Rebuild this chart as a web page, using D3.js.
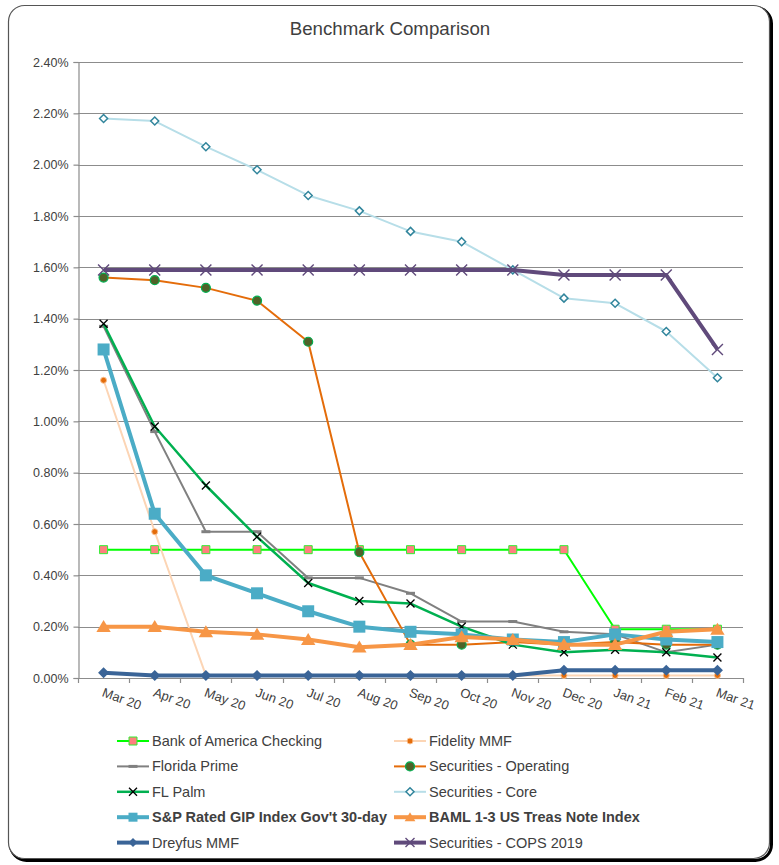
<!DOCTYPE html>
<html>
<head>
<meta charset="utf-8">
<script src="https://cdn.jsdelivr.net/npm/d3@7"></script>
<style>
  html, body { margin: 0; padding: 0; background: #fff; }
  svg { display: block; font-family: "Liberation Sans", Arial, sans-serif; }
</style>
</head>
<body>
<svg id="chart" width="779" height="865"></svg>
<script>
// Months on the category axis
const months = ["Mar 20", "Apr 20", "May 20", "Jun 20", "Jul 20", "Aug 20", "Sep 20",
                "Oct 20", "Nov 20", "Dec 20", "Jan 21", "Feb 21", "Mar 21"];

// Yield values, in percent
const bankOfAmerica   = [0.50, 0.50, 0.50, 0.50, 0.50, 0.50, 0.50, 0.50, 0.50, 0.50, 0.19, 0.19, 0.19];
const fidelityMMF     = [1.16, 0.57, 0.01, 0.01, 0.01, 0.01, 0.01, 0.01, 0.01, 0.01, 0.01, 0.01, 0.01];
const floridaPrime    = [1.37, 0.96, 0.57, 0.57, 0.39, 0.39, 0.33, 0.22, 0.22, 0.18, 0.17, 0.10, 0.13];
const secOperating    = [1.56, 1.55, 1.52, 1.47, 1.31, 0.49, 0.13, 0.13, 0.14, 0.13, 0.14, 0.13, 0.13];
const flPalm          = [1.38, 0.98, 0.75, 0.55, 0.37, 0.30, 0.29, 0.20, 0.13, 0.10, 0.11, 0.10, 0.08];
const secCore         = [2.18, 2.17, 2.07, 1.98, 1.88, 1.82, 1.74, 1.70, 1.59, 1.48, 1.46, 1.35, 1.17];
const spGip           = [1.28, 0.64, 0.40, 0.33, 0.26, 0.20, 0.18, 0.17, 0.15, 0.14, 0.17, 0.15, 0.14];
const bamlTreas       = [0.20, 0.20, 0.18, 0.17, 0.15, 0.12, 0.13, 0.16, 0.15, 0.13, 0.13, 0.18, 0.19];
const dreyfusMMF      = [0.02, 0.01, 0.01, 0.01, 0.01, 0.01, 0.01, 0.01, 0.01, 0.03, 0.03, 0.03, 0.03];
const secCops2019     = [1.59, 1.59, 1.59, 1.59, 1.59, 1.59, 1.59, 1.59, 1.59, 1.57, 1.57, 1.57, 1.28];

const seriesNames = ["Bank of America Checking", "Fidelity MMF", "Florida Prime",
  "Securities - Operating", "FL Palm", "Securities - Core",
  "S&P Rated GIP Index Gov't 30-day", "BAML 1-3 US Treas Note Index",
  "Dreyfus MMF", "Securities - COPS 2019"];

// Value-axis ticks
const yTicks = [0, 0.2, 0.4, 0.6, 0.8, 1.0, 1.2, 1.4, 1.6, 1.8, 2.0, 2.2, 2.4];

const chartTitle = "Benchmark Comparison";

// ---- marker shapes ----
const mk = {
  square: s => `M${-s/2},${-s/2}h${s}v${s}h${-s}Z`,
  diamond: s => `M0,${-s/2}L${s/2},0L0,${s/2}L${-s/2},0Z`,
  triangle: s => `M0,${-s*0.55}L${s*0.6},${s*0.45}L${-s*0.6},${s*0.45}Z`,
  circle: s => d3.symbol(d3.symbolCircle, Math.PI * s * s / 4)(),
  cross: s => `M${-s/2},${-s/2}L${s/2},${s/2}M${s/2},${-s/2}L${-s/2},${s/2}`,
  dash: s => `M${-s/2},${-1.5}h${s}v3h${-s}Z`
};

const styles = [
  { values: bankOfAmerica, line: "#00ff00", width: 2,   shape: "square",   size: 8,  fill: "#ff7f7f", stroke: "#33ee33", sw: 1 },
  { values: fidelityMMF,   line: "#fcd5b5", width: 2,   shape: "circle",   size: 6,  fill: "#e46c0a", stroke: "#fac090", sw: 1 },
  { values: floridaPrime,  line: "#808080", width: 2,   shape: "dash",     size: 9,  fill: "#808080", stroke: "none",    sw: 0 },
  { values: secOperating,  line: "#e46c0a", width: 2,   shape: "circle",   size: 9,  fill: "#4f6228", stroke: "#00b050", sw: 1.2 },
  { values: flPalm,        line: "#00b050", width: 2.5, shape: "cross",    size: 8,  fill: "none",    stroke: "#000",    sw: 1.3 },
  { values: secCore,       line: "#b7dee8", width: 2,   shape: "diamond",  size: 8,  fill: "#fff",    stroke: "#31859c", sw: 1.5 },
  { values: spGip,         line: "#4bacc6", width: 4,   shape: "square",   size: 12, fill: "#4bacc6", stroke: "none",    sw: 0 },
  { values: bamlTreas,     line: "#f79646", width: 4,   shape: "triangle", size: 12, fill: "#f79646", stroke: "none",    sw: 0 },
  { values: dreyfusMMF,    line: "#3a6497", width: 4,   shape: "diamond",  size: 11, fill: "#3a6497", stroke: "none",    sw: 0 },
  { values: secCops2019,   line: "#604a7b", width: 4,   shape: "cross",    size: 11, fill: "none",    stroke: "#604a7b", sw: 1.4 }
];

const svg = d3.select("#chart");

// ---- frame with heavier right/bottom edge ----
svg.append("rect").attr("x", 10.5).attr("y", 7.5).attr("width", 761).attr("height", 853)
  .attr("rx", 16).attr("fill", "none").attr("stroke", "#000").attr("stroke-width", 3);
svg.append("rect").attr("x", 8.5).attr("y", 5.5).attr("width", 761).attr("height", 853)
  .attr("rx", 16).attr("fill", "#fff").attr("stroke", "#555").attr("stroke-width", 1.2);

// ---- title ----
svg.append("text").attr("x", 390).attr("y", 35).attr("text-anchor", "middle")
  .attr("font-size", 18.7).attr("fill", "#404040").text(chartTitle);

// ---- scales ----
const plot = { left: 78, right: 743, top: 62, bottom: 678 };
const x = d3.scaleBand().domain(months).range([plot.left, plot.right]).padding(0);
const cx = m => x(m) + x.bandwidth() / 2;
const y = d3.scaleLinear().domain([0, 2.4]).range([plot.bottom, plot.top]);

// ---- gridlines ----
svg.append("g").selectAll("line").data(yTicks.slice(1)).join("line")
  .attr("x1", plot.left).attr("x2", plot.right)
  .attr("y1", d => Math.round(y(d)) + 0.5).attr("y2", d => Math.round(y(d)) + 0.5)
  .attr("stroke", "#8c8c8c").attr("stroke-width", 1.2);

// ---- y axis ----
const yAxis = svg.append("g").attr("transform", `translate(${plot.left + 0.5},0)`)
  .call(d3.axisLeft(y).tickValues(yTicks).tickSize(5).tickPadding(5)
    .tickFormat(d => d3.format(".2f")(d) + "%"));
yAxis.select(".domain").attr("stroke", "#8c8c8c").attr("stroke-width", 1.2);
yAxis.selectAll(".tick line").attr("stroke", "#8c8c8c").attr("stroke-width", 1.2);
yAxis.selectAll(".tick text").attr("font-size", 12.5).attr("fill", "#404040")
  .attr("font-family", "Liberation Sans, Arial, sans-serif");

// ---- x axis (ticks on category boundaries) ----
const xg = svg.append("g");
xg.append("line").attr("x1", plot.left).attr("x2", plot.right)
  .attr("y1", plot.bottom + 0.5).attr("y2", plot.bottom + 0.5)
  .attr("stroke", "#8c8c8c").attr("stroke-width", 1.2);
const boundaries = months.map(m => x(m)).concat([plot.right]);
xg.selectAll("line.tk").data(boundaries).join("line").attr("class", "tk")
  .attr("x1", d => Math.round(d) + 0.5).attr("x2", d => Math.round(d) + 0.5)
  .attr("y1", plot.bottom).attr("y2", plot.bottom + 5)
  .attr("stroke", "#8c8c8c").attr("stroke-width", 1.2);
xg.selectAll("text").data(months).join("text")
  .attr("transform", m => `translate(${cx(m) + 1},${plot.bottom + 9}) rotate(20)`)
  .attr("dominant-baseline", "hanging")
  .attr("font-size", 13).attr("fill", "#404040").text(m => m);

// ---- series ----
const lineGen = d3.line().x((d, i) => cx(months[i])).y(d => y(d));
styles.forEach(s => {
  const g = svg.append("g");
  g.append("path").datum(s.values).attr("d", lineGen)
    .attr("fill", "none").attr("stroke", s.line).attr("stroke-width", s.width)
    .attr("stroke-linejoin", "round");
  g.selectAll("path.m").data(s.values).join("path").attr("class", "m")
    .attr("transform", (d, i) => `translate(${cx(months[i])},${y(d)})`)
    .attr("d", mk[s.shape](s.size))
    .attr("fill", s.fill).attr("stroke", s.stroke).attr("stroke-width", s.sw);
});

// ---- legend ----
const legendCols = [117, 394];
const legendRows = d3.range(5).map(r => 741 + r * 25.4);
const boldNames = new Set(["S&P Rated GIP Index Gov't 30-day", "BAML 1-3 US Treas Note Index"]);
styles.forEach((s, i) => {
  const lx = legendCols[i % 2];
  const ly = legendRows[Math.floor(i / 2)];
  const g = svg.append("g").attr("transform", `translate(${lx},${ly})`);
  g.append("line").attr("x1", 0).attr("x2", 32).attr("y1", 0).attr("y2", 0)
    .attr("stroke", s.line).attr("stroke-width", s.width);
  g.append("path").attr("transform", "translate(16,0)")
    .attr("d", mk[s.shape](Math.min(s.size, 9)))
    .attr("fill", s.fill).attr("stroke", s.stroke).attr("stroke-width", s.sw);
  g.append("text").attr("x", 35).attr("y", 0).attr("dy", "0.35em")
    .attr("font-size", 14.5).attr("fill", "#404040")
    .attr("font-weight", boldNames.has(seriesNames[i]) ? "bold" : "normal")
    .text(seriesNames[i]);
});
</script>
</body>
</html>
